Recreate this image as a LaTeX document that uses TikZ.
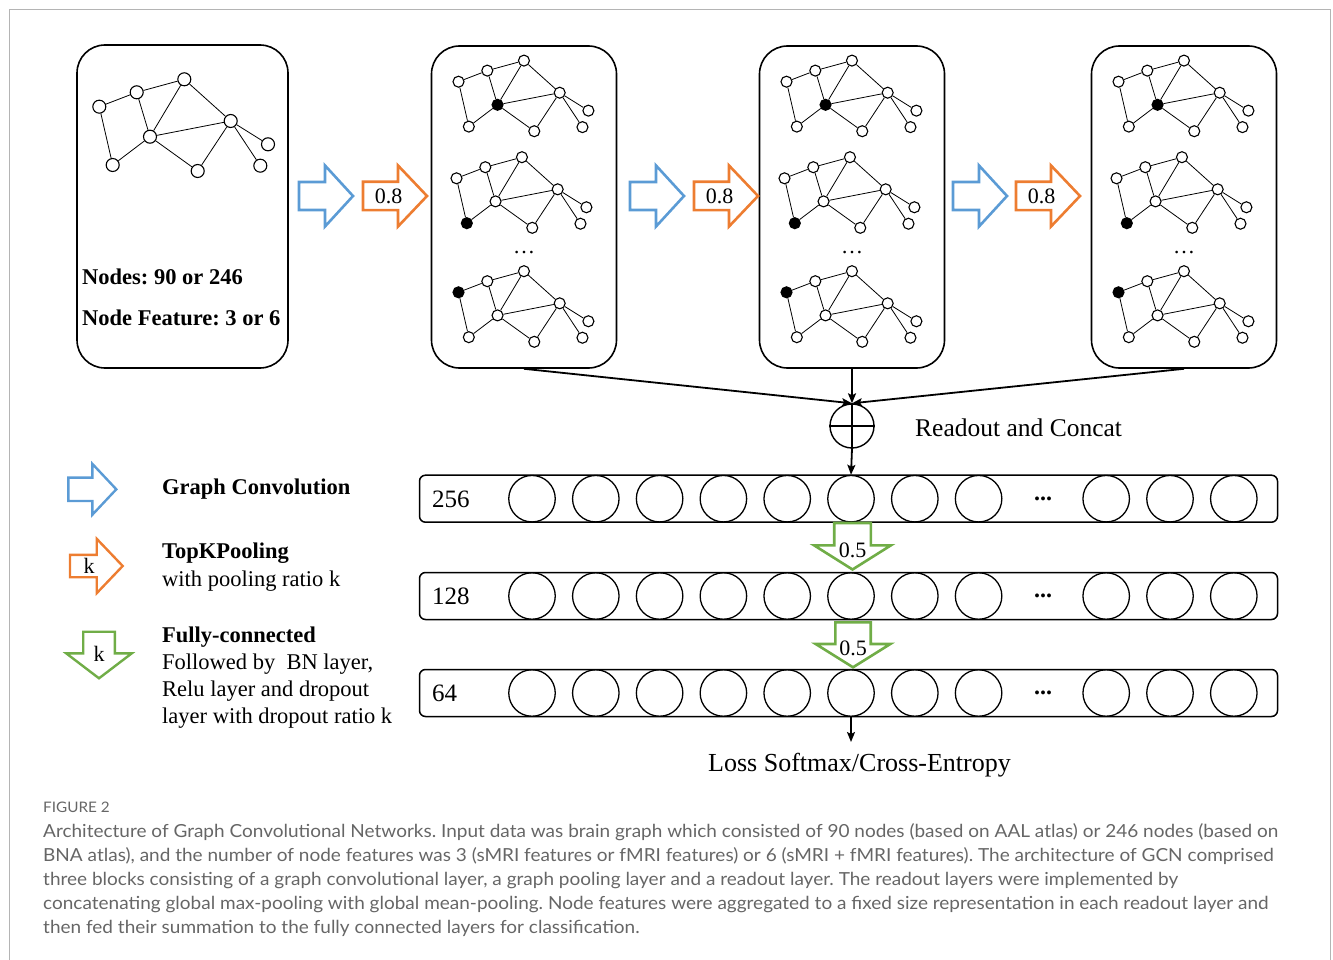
\documentclass[tikz,border=0pt]{standalone}
\usepackage{fontspec}
\setmainfont{Liberation Serif}
\newfontfamily\capfont[FakeStretch=1.055]{Lato}
\usetikzlibrary{arrows.meta}
\definecolor{cblue}{HTML}{5B9BD5}
\definecolor{corange}{HTML}{ED7D31}
\definecolor{cgreen}{HTML}{70AD47}
\definecolor{capgray}{HTML}{666666}
\definecolor{framegray}{HTML}{B4B4B4}
\frenchspacing

\tikzset{
  gbox/.style={draw, line width=1.6pt, rounded corners=28pt, minimum width=185pt, minimum height=322pt},
  gv/.style={circle, draw, line width=1.1pt, fill=white, inner sep=0pt, minimum size=13pt},
  gv-A/.style={}, gv-B/.style={}, gv-C/.style={}, gv-D/.style={}, gv-E/.style={},
  gv-F/.style={}, gv-G/.style={}, gv-H/.style={}, gv-I/.style={},
  gedge/.style={line width=0.8pt},
  smallgraph/.style={scale=0.77, gv/.append style={minimum size=11pt}},
  pics/brain/.style={code={
    \node[gv, gv-A] (-A) at (0,0) {};
    \node[gv, gv-B] (-B) at (37.4,-14.4) {};
    \node[gv, gv-C] (-C) at (85,-27.4) {};
    \node[gv, gv-D] (-D) at (50.7,30) {};
    \node[gv, gv-E] (-E) at (131.4,14.3) {};
    \node[gv, gv-F] (-F) at (13.4,58.3) {};
    \node[gv, gv-G] (-G) at (98.4,64.3) {};
    \node[gv, gv-H] (-H) at (168.7,37.6) {};
    \node[gv, gv-I] (-I) at (161,59) {};
    \draw[gedge] (-A) -- (-B) (-B) -- (-C) (-A) -- (-F) (-B) -- (-D) (-C) -- (-D)
                 (-C) -- (-E) (-D) -- (-E) (-D) -- (-F) (-D) -- (-G) (-G) -- (-E)
                 (-E) -- (-H) (-E) -- (-I);
  }},
  % block arrow: length, shaft length, shaft half width, head half width, label position, label
  pics/rblock/.style n args={6}{code={
    \draw[pic actions, line join=miter]
      (0,-#3) -- (#2,-#3) -- (#2,-#4) -- (#1,0) -- (#2,#4) -- (#2,#3) -- (0,#3) -- cycle;
    \node[blabel] (-t) at (#5,0) {#6};
  }},
  blabel/.style={inner sep=0pt, font=\fontsize{22}{24}\selectfont},
  boldtxt/.style={inner sep=0pt, font=\fontsize{22.5}{27}\selectfont\bfseries},
  regtxt/.style={inner sep=0pt, font=\fontsize{22.5}{27}\selectfont},
  layer/.style={draw, line width=1.5pt, rounded corners=6pt, minimum width=858pt, minimum height=47pt, inner sep=0pt},
  unit/.style={circle, draw, line width=1.3pt, minimum size=46.5pt, inner sep=0pt},
  lnum/.style={inner sep=0pt, font=\fontsize{25}{28}\selectfont},
  conn/.style={line width=1.8pt, -{Stealth[length=10pt, width=8pt, inset=2pt]}},
  captxt/.style={inner sep=0pt, text=capgray, font=\capfont\fontsize{18}{24}\selectfont},
}

\begin{document}
\begin{tikzpicture}[x=1pt, y=-1pt]
\useasboundingbox (0,0) rectangle (1333,960);
\draw[framegray, line width=1pt] (9.5,960) -- (9.5,9.5) -- (1330.5,9.5) -- (1330.5,960);

% input graph
\node[gbox, minimum width=211pt, minimum height=323pt] (box1) at (182.5,206.5) {};
\pic (g1) at (99.3,106.7) {brain};
\node[boldtxt, anchor=base west] (nodes) at (82,284) {Nodes: 90 or 246};
\node[boldtxt, anchor=base west] (feat) at (82,325) {Node Feature: 3 or 6};

% pooled graphs, one box per block
\foreach \b/\cx in {2/524, 3/852, 4/1184} {
  \node[gbox] (box\b) at (\cx,207) {};
  \pic[smallgraph, gv-D/.style={fill=black}] (g\b-1) at (\cx-65.5,81.7) {brain};
  \pic[smallgraph, gv-F/.style={fill=black}] (g\b-2) at (\cx-67.5,178.3) {brain};
  \pic[smallgraph, gv-A/.style={fill=black}] (g\b-3) at (\cx-65.5,292.3) {brain};
  \node[font=\fontsize{22}{24}\selectfont, inner sep=0pt] (dots\b) at (\cx,253) {\dots};
}

% convolution and pooling arrows
\foreach \i/\bx/\ox in {1/299/363, 2/630/694, 3/953/1016} {
  \pic[draw=cblue, line width=2.6pt] (conv\i) at (\bx,196) {rblock={54}{26}{14}{30.5}{13}{}};
  \pic[draw=corange, line width=2.6pt] (pool\i) at (\ox,196) {rblock={64}{35}{14.2}{30.5}{25.5}{0.8}};
}

% readout
\node[circle, draw, line width=1.4pt, minimum size=44pt, inner sep=0pt] (sum) at (852,426) {};
\draw[line width=1.2pt] (sum.north) -- (sum.south) (sum.west) -- (sum.east);
\node[inner sep=0pt, anchor=base west, font=\fontsize{25.5}{28}\selectfont] (readout) at (915,436.5) {Readout and Concat};
\draw[conn] (box2.south) -- (sum.north);
\draw[conn] (box3.south) -- (sum.north);
\draw[conn] (box4.south) -- (sum.north);

% fully connected layers
\foreach \L/\yy/\lab in {1/498.7/256, 2/596/128, 3/693/64} {
  \node[layer] (L\L) at (848.5,\yy) {};
  \node[lnum, anchor=base west] (L\L-n) at (432,\yy+8.5) {\lab};
  \foreach \i/\xx in {1/532, 2/595.8, 3/659.6, 4/723.4, 5/787.2, 6/851, 7/914.8, 8/978.6, 9/1106.2, 10/1170, 11/1233.8}
    \node[unit] (L\L-\i) at (\xx,\yy) {};
  \node[inner sep=0pt, font=\fontsize{24}{26}\selectfont\bfseries] (L\L-d) at (1043,\yy) {...};
}
\draw[conn] (sum.south) -- (L1-6.north);
\pic[draw=cgreen, line width=2.6pt, rotate=-90] (fc1) at (852.5,523) {rblock={46.5}{22.4}{18.3}{38.3}{27}{0.5}};
\pic[draw=cgreen, line width=2.6pt, rotate=-90] (fc2) at (853,622.3) {rblock={45}{21.7}{17.7}{37.3}{26}{0.5}};
\coordinate (lossin) at (851,742);
\draw[conn] (L3-6.south) -- (lossin);
\node[inner sep=0pt, anchor=base, font=\fontsize{26}{28}\selectfont] (loss) at (859.5,771) {Loss Softmax/Cross-Entropy};

% legend
\pic[draw=cblue, line width=2.4pt] (leg1) at (68.3,489.3) {rblock={48}{24}{11.7}{25.5}{12}{}};
\node[boldtxt, anchor=base west] (leg1t) at (162,494.5) {Graph Convolution};
\pic[draw=corange, line width=2.4pt] (leg2) at (70,566) {rblock={52.7}{26.7}{11.2}{27.2}{19}{k}};
\node[boldtxt, anchor=base west] (leg2t) at (162,558.5) {TopKPooling};
\node[regtxt, anchor=base west] (leg2s) at (162,586.5) {with pooling ratio k};
\pic[draw=cgreen, line width=2.4pt, rotate=-90] (leg3) at (99,631.7) {rblock={46.6}{21.6}{15.8}{32.8}{22.3}{k}};
\node[boldtxt, anchor=base west] (leg3t) at (162,642.5) {Fully-connected};
\node[regtxt, anchor=base west] (leg3a) at (162,669.5) {Followed by~ BN layer,};
\node[regtxt, anchor=base west] (leg3b) at (162,696.5) {Relu layer and dropout};
\node[regtxt, anchor=base west] (leg3c) at (162,723.5) {layer with dropout ratio k};

% caption
\node[captxt, anchor=base west, font=\capfont\fontsize{14.5}{16}\selectfont] (figno) at (43,812.5) {FIGURE 2};
\node[captxt, anchor=base west] (cap1) at (43,837) {Architecture of Graph Convolutional Networks. Input data was brain graph which consisted of 90 nodes (based on AAL atlas) or 246 nodes (based on};
\node[captxt, anchor=base west] (cap2) at (43,861) {BNA atlas), and the number of node features was 3 (sMRI features or fMRI features) or 6 (sMRI + fMRI features). The architecture of GCN comprised};
\node[captxt, anchor=base west] (cap3) at (43,885) {three blocks consisting of a graph convolutional layer, a graph pooling layer and a readout layer. The readout layers were implemented by};
\node[captxt, anchor=base west] (cap4) at (43,909) {concatenating global max-pooling with global mean-pooling. Node features were aggregated to a fixed size representation in each readout layer and};
\node[captxt, anchor=base west] (cap5) at (43,933) {then fed their summation to the fully connected layers for classification.};
\end{tikzpicture}
\end{document}
